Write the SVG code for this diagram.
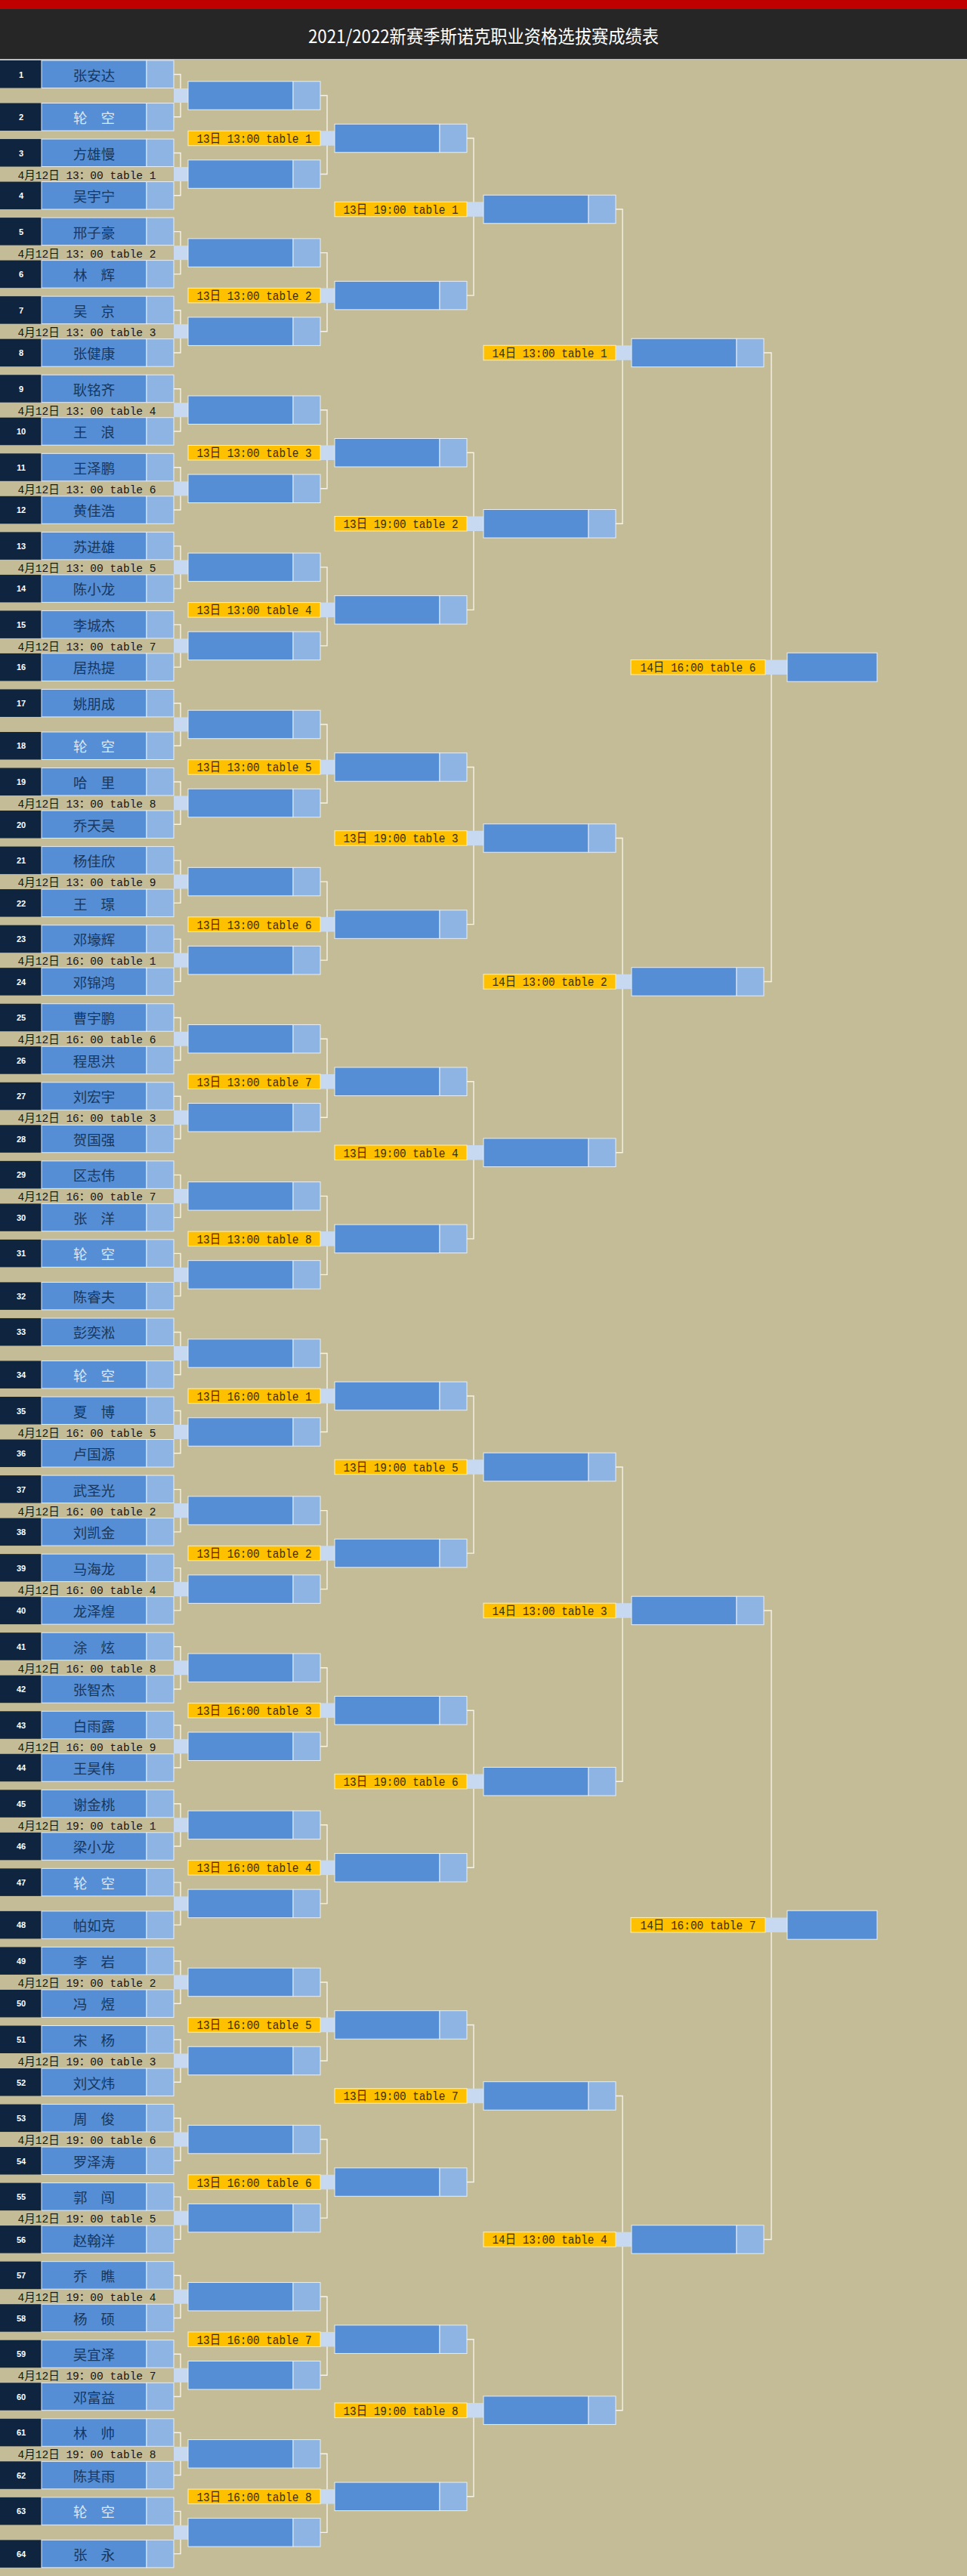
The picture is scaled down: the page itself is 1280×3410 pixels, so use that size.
<svg xmlns="http://www.w3.org/2000/svg" xmlns:xlink="http://www.w3.org/1999/xlink" width="1280" height="3410" viewBox="0 0 1280 3410">
<style>
.sd{fill:#0f243e}
.nm{fill:#558ed5;stroke:#e6edf6;stroke-width:1}
.sc{fill:#8db4e2;stroke:#e6edf6;stroke-width:1}
.lc{fill:#c6d9f1}
.br{fill:none;stroke:#f6f3e8;stroke-width:1.4}
.lb{fill:#ffc000;stroke:#fff0b0;stroke-width:1}
.num{font-family:"Liberation Sans",Arial,sans-serif;font-weight:bold;font-size:11px;fill:#ffffff;text-anchor:middle}
.pn{font-family:"Noto Sans CJK SC",sans-serif;font-size:18.5px;fill:#17375e;text-anchor:middle}
.bye{fill:#dbe7f5}
.dt{font-family:"Liberation Mono","Noto Sans CJK SC",monospace;font-size:15px;fill:#151515;text-anchor:middle}
.mt{font-family:"Liberation Mono","Noto Sans CJK SC",monospace;font-size:17px;fill:#3a2e00;text-anchor:middle}
.ttl{font-family:"Noto Sans CJK SC",sans-serif;font-size:24px;fill:#ffffff;text-anchor:middle}
</style>
<defs>
<g id="slot"><rect class="sd" width="55" height="36.5"/><rect class="nm" x="55" width="139" height="36.5"/><rect class="sc" x="194" width="36" height="36.5"/></g>
<g id="box"><rect class="nm" width="139" height="37.5"/><rect class="sc" x="139" width="36" height="37.5"/></g>
<path id="b1" class="br" d="M230,18.5H239V74.75H230"/>
<path id="b2" class="br" d="M424,0H433V104.06H424"/>
<path id="b3" class="br" d="M618,0H627V208.12H618"/>
<path id="b4" class="br" d="M814,0H824V416.24H814"/>
<path id="b5" class="br" d="M1011,0H1021V832.48H1011"/>
<rect id="l1" class="lc" x="230" y="37" width="19" height="19"/>
<rect id="l2" class="lc" x="424" y="-9.75" width="19" height="19.5"/>
<rect id="l3" class="lc" x="618" y="-9.75" width="22" height="19.5"/>
<rect id="l4" class="lc" x="814" y="-9.75" width="22" height="19.5"/>
<rect id="l5" class="lc" x="1013" y="-9.75" width="29" height="19.5"/>
</defs>
<rect width="1280" height="3410" fill="#c4bc96"/>
<rect width="1280" height="12" fill="#c00000"/>
<rect y="12" width="1280" height="66" fill="#262626"/>
<rect y="78" width="1280" height="1.5" fill="#bdbdbd"/>
<text class="ttl" x="640" y="57" textLength="464" lengthAdjust="spacingAndGlyphs">2021/2022新赛季斯诺克职业资格选拔赛成绩表</text>

<g id="connectors">
<use href="#b1" y="80"/><use href="#b1" y="184.06"/><use href="#b1" y="288.12"/><use href="#b1" y="392.18"/><use href="#b1" y="496.24"/><use href="#b1" y="600.3"/><use href="#b1" y="704.36"/><use href="#b1" y="808.42"/>
<use href="#b1" y="912.48"/><use href="#b1" y="1016.54"/><use href="#b1" y="1120.6"/><use href="#b1" y="1224.66"/><use href="#b1" y="1328.72"/><use href="#b1" y="1432.78"/><use href="#b1" y="1536.84"/><use href="#b1" y="1640.9"/>
<use href="#b1" y="1744.96"/><use href="#b1" y="1849.02"/><use href="#b1" y="1953.08"/><use href="#b1" y="2057.14"/><use href="#b1" y="2161.2"/><use href="#b1" y="2265.26"/><use href="#b1" y="2369.32"/><use href="#b1" y="2473.38"/>
<use href="#b1" y="2577.44"/><use href="#b1" y="2681.5"/><use href="#b1" y="2785.56"/><use href="#b1" y="2889.62"/><use href="#b1" y="2993.68"/><use href="#b1" y="3097.74"/><use href="#b1" y="3201.8"/><use href="#b1" y="3305.86"/>
<use href="#b2" y="126.5"/><use href="#b2" y="334.62"/><use href="#b2" y="542.74"/><use href="#b2" y="750.86"/><use href="#b2" y="958.98"/><use href="#b2" y="1167.1"/><use href="#b2" y="1375.22"/><use href="#b2" y="1583.34"/>
<use href="#b2" y="1791.46"/><use href="#b2" y="1999.58"/><use href="#b2" y="2207.7"/><use href="#b2" y="2415.82"/><use href="#b2" y="2623.94"/><use href="#b2" y="2832.06"/><use href="#b2" y="3040.18"/><use href="#b2" y="3248.3"/>
<use href="#b3" y="183"/><use href="#b3" y="599.24"/><use href="#b3" y="1015.48"/><use href="#b3" y="1431.72"/><use href="#b3" y="1847.96"/><use href="#b3" y="2264.2"/><use href="#b3" y="2680.44"/><use href="#b3" y="3096.68"/>
<use href="#b4" y="277"/><use href="#b4" y="1109.48"/><use href="#b4" y="1941.96"/><use href="#b4" y="2774.44"/>
<use href="#b5" y="467"/><use href="#b5" y="2131.96"/>
<use href="#l1" y="80"/><use href="#l1" y="184.06"/><use href="#l1" y="288.12"/><use href="#l1" y="392.18"/><use href="#l1" y="496.24"/><use href="#l1" y="600.3"/><use href="#l1" y="704.36"/><use href="#l1" y="808.42"/>
<use href="#l1" y="912.48"/><use href="#l1" y="1016.54"/><use href="#l1" y="1120.6"/><use href="#l1" y="1224.66"/><use href="#l1" y="1328.72"/><use href="#l1" y="1432.78"/><use href="#l1" y="1536.84"/><use href="#l1" y="1640.9"/>
<use href="#l1" y="1744.96"/><use href="#l1" y="1849.02"/><use href="#l1" y="1953.08"/><use href="#l1" y="2057.14"/><use href="#l1" y="2161.2"/><use href="#l1" y="2265.26"/><use href="#l1" y="2369.32"/><use href="#l1" y="2473.38"/>
<use href="#l1" y="2577.44"/><use href="#l1" y="2681.5"/><use href="#l1" y="2785.56"/><use href="#l1" y="2889.62"/><use href="#l1" y="2993.68"/><use href="#l1" y="3097.74"/><use href="#l1" y="3201.8"/><use href="#l1" y="3305.86"/>
<use href="#l2" y="183"/><use href="#l2" y="391.12"/><use href="#l2" y="599.24"/><use href="#l2" y="807.36"/><use href="#l2" y="1015.48"/><use href="#l2" y="1223.6"/><use href="#l2" y="1431.72"/><use href="#l2" y="1639.84"/>
<use href="#l2" y="1847.96"/><use href="#l2" y="2056.08"/><use href="#l2" y="2264.2"/><use href="#l2" y="2472.32"/><use href="#l2" y="2680.44"/><use href="#l2" y="2888.56"/><use href="#l2" y="3096.68"/><use href="#l2" y="3304.8"/>
<use href="#l3" y="277"/><use href="#l3" y="693.24"/><use href="#l3" y="1109.48"/><use href="#l3" y="1525.72"/><use href="#l3" y="1941.96"/><use href="#l3" y="2358.2"/><use href="#l3" y="2774.44"/><use href="#l3" y="3190.68"/>
<use href="#l4" y="467"/><use href="#l4" y="1299.48"/><use href="#l4" y="2131.96"/><use href="#l4" y="2964.44"/>
<use href="#l5" y="883.24"/><use href="#l5" y="2548.2"/>
</g>

<g id="round64">
<g transform="translate(0,80)"><g id="p1"><use href="#slot"/><text class="num" x="28" y="22.5">1</text><text class="pn" x="124.5" y="26.5">张安达</text></g><g id="p2" transform="translate(0,56.5)"><use href="#slot"/><text class="num" x="28" y="22.5">2</text><text class="pn bye" x="124.5" y="26.5" textLength="55">轮 空</text></g><g id="w1"><use href="#box" x="249" y="27.75"/></g></g>
<g transform="translate(0,184.06)"><g id="p3"><use href="#slot"/><text class="num" x="28" y="22.5">3</text><text class="pn" x="124.5" y="26.5">方雄慢</text></g><g id="p4" transform="translate(0,56.5)"><use href="#slot"/><text class="num" x="28" y="22.5">4</text><text class="pn" x="124.5" y="26.5">吴宇宁</text></g><g id="w2"><text class="dt" x="115" y="52.5" textLength="183" lengthAdjust="spacingAndGlyphs">4月12日 13：00 table 1</text><use href="#box" x="249" y="27.75"/></g></g>
<g transform="translate(0,288.12)"><g id="p5"><use href="#slot"/><text class="num" x="28" y="22.5">5</text><text class="pn" x="124.5" y="26.5">邢子豪</text></g><g id="p6" transform="translate(0,56.5)"><use href="#slot"/><text class="num" x="28" y="22.5">6</text><text class="pn" x="124.5" y="26.5" textLength="55">林 辉</text></g><g id="w3"><text class="dt" x="115" y="52.5" textLength="183" lengthAdjust="spacingAndGlyphs">4月12日 13：00 table 2</text><use href="#box" x="249" y="27.75"/></g></g>
<g transform="translate(0,392.18)"><g id="p7"><use href="#slot"/><text class="num" x="28" y="22.5">7</text><text class="pn" x="124.5" y="26.5" textLength="55">吴 京</text></g><g id="p8" transform="translate(0,56.5)"><use href="#slot"/><text class="num" x="28" y="22.5">8</text><text class="pn" x="124.5" y="26.5">张健康</text></g><g id="w4"><text class="dt" x="115" y="52.5" textLength="183" lengthAdjust="spacingAndGlyphs">4月12日 13：00 table 3</text><use href="#box" x="249" y="27.75"/></g></g>
<g transform="translate(0,496.24)"><g id="p9"><use href="#slot"/><text class="num" x="28" y="22.5">9</text><text class="pn" x="124.5" y="26.5">耿铭齐</text></g><g id="p10" transform="translate(0,56.5)"><use href="#slot"/><text class="num" x="28" y="22.5">10</text><text class="pn" x="124.5" y="26.5" textLength="55">王 浪</text></g><g id="w5"><text class="dt" x="115" y="52.5" textLength="183" lengthAdjust="spacingAndGlyphs">4月12日 13：00 table 4</text><use href="#box" x="249" y="27.75"/></g></g>
<g transform="translate(0,600.3)"><g id="p11"><use href="#slot"/><text class="num" x="28" y="22.5">11</text><text class="pn" x="124.5" y="26.5">王泽鹏</text></g><g id="p12" transform="translate(0,56.5)"><use href="#slot"/><text class="num" x="28" y="22.5">12</text><text class="pn" x="124.5" y="26.5">黄佳浩</text></g><g id="w6"><text class="dt" x="115" y="52.5" textLength="183" lengthAdjust="spacingAndGlyphs">4月12日 13：00 table 6</text><use href="#box" x="249" y="27.75"/></g></g>
<g transform="translate(0,704.36)"><g id="p13"><use href="#slot"/><text class="num" x="28" y="22.5">13</text><text class="pn" x="124.5" y="26.5">苏进雄</text></g><g id="p14" transform="translate(0,56.5)"><use href="#slot"/><text class="num" x="28" y="22.5">14</text><text class="pn" x="124.5" y="26.5">陈小龙</text></g><g id="w7"><text class="dt" x="115" y="52.5" textLength="183" lengthAdjust="spacingAndGlyphs">4月12日 13：00 table 5</text><use href="#box" x="249" y="27.75"/></g></g>
<g transform="translate(0,808.42)"><g id="p15"><use href="#slot"/><text class="num" x="28" y="22.5">15</text><text class="pn" x="124.5" y="26.5">李城杰</text></g><g id="p16" transform="translate(0,56.5)"><use href="#slot"/><text class="num" x="28" y="22.5">16</text><text class="pn" x="124.5" y="26.5">居热提</text></g><g id="w8"><text class="dt" x="115" y="52.5" textLength="183" lengthAdjust="spacingAndGlyphs">4月12日 13：00 table 7</text><use href="#box" x="249" y="27.75"/></g></g>
<g transform="translate(0,912.48)"><g id="p17"><use href="#slot"/><text class="num" x="28" y="22.5">17</text><text class="pn" x="124.5" y="26.5">姚朋成</text></g><g id="p18" transform="translate(0,56.5)"><use href="#slot"/><text class="num" x="28" y="22.5">18</text><text class="pn bye" x="124.5" y="26.5" textLength="55">轮 空</text></g><g id="w9"><use href="#box" x="249" y="27.75"/></g></g>
<g transform="translate(0,1016.54)"><g id="p19"><use href="#slot"/><text class="num" x="28" y="22.5">19</text><text class="pn" x="124.5" y="26.5" textLength="55">哈 里</text></g><g id="p20" transform="translate(0,56.5)"><use href="#slot"/><text class="num" x="28" y="22.5">20</text><text class="pn" x="124.5" y="26.5">乔天昊</text></g><g id="w10"><text class="dt" x="115" y="52.5" textLength="183" lengthAdjust="spacingAndGlyphs">4月12日 13：00 table 8</text><use href="#box" x="249" y="27.75"/></g></g>
<g transform="translate(0,1120.6)"><g id="p21"><use href="#slot"/><text class="num" x="28" y="22.5">21</text><text class="pn" x="124.5" y="26.5">杨佳欣</text></g><g id="p22" transform="translate(0,56.5)"><use href="#slot"/><text class="num" x="28" y="22.5">22</text><text class="pn" x="124.5" y="26.5" textLength="55">王 璟</text></g><g id="w11"><text class="dt" x="115" y="52.5" textLength="183" lengthAdjust="spacingAndGlyphs">4月12日 13：00 table 9</text><use href="#box" x="249" y="27.75"/></g></g>
<g transform="translate(0,1224.66)"><g id="p23"><use href="#slot"/><text class="num" x="28" y="22.5">23</text><text class="pn" x="124.5" y="26.5">邓壕辉</text></g><g id="p24" transform="translate(0,56.5)"><use href="#slot"/><text class="num" x="28" y="22.5">24</text><text class="pn" x="124.5" y="26.5">邓锦鸿</text></g><g id="w12"><text class="dt" x="115" y="52.5" textLength="183" lengthAdjust="spacingAndGlyphs">4月12日 16：00 table 1</text><use href="#box" x="249" y="27.75"/></g></g>
<g transform="translate(0,1328.72)"><g id="p25"><use href="#slot"/><text class="num" x="28" y="22.5">25</text><text class="pn" x="124.5" y="26.5">曹宇鹏</text></g><g id="p26" transform="translate(0,56.5)"><use href="#slot"/><text class="num" x="28" y="22.5">26</text><text class="pn" x="124.5" y="26.5">程思洪</text></g><g id="w13"><text class="dt" x="115" y="52.5" textLength="183" lengthAdjust="spacingAndGlyphs">4月12日 16：00 table 6</text><use href="#box" x="249" y="27.75"/></g></g>
<g transform="translate(0,1432.78)"><g id="p27"><use href="#slot"/><text class="num" x="28" y="22.5">27</text><text class="pn" x="124.5" y="26.5">刘宏宇</text></g><g id="p28" transform="translate(0,56.5)"><use href="#slot"/><text class="num" x="28" y="22.5">28</text><text class="pn" x="124.5" y="26.5">贺国强</text></g><g id="w14"><text class="dt" x="115" y="52.5" textLength="183" lengthAdjust="spacingAndGlyphs">4月12日 16：00 table 3</text><use href="#box" x="249" y="27.75"/></g></g>
<g transform="translate(0,1536.84)"><g id="p29"><use href="#slot"/><text class="num" x="28" y="22.5">29</text><text class="pn" x="124.5" y="26.5">区志伟</text></g><g id="p30" transform="translate(0,56.5)"><use href="#slot"/><text class="num" x="28" y="22.5">30</text><text class="pn" x="124.5" y="26.5" textLength="55">张 洋</text></g><g id="w15"><text class="dt" x="115" y="52.5" textLength="183" lengthAdjust="spacingAndGlyphs">4月12日 16：00 table 7</text><use href="#box" x="249" y="27.75"/></g></g>
<g transform="translate(0,1640.9)"><g id="p31"><use href="#slot"/><text class="num" x="28" y="22.5">31</text><text class="pn bye" x="124.5" y="26.5" textLength="55">轮 空</text></g><g id="p32" transform="translate(0,56.5)"><use href="#slot"/><text class="num" x="28" y="22.5">32</text><text class="pn" x="124.5" y="26.5">陈睿夫</text></g><g id="w16"><use href="#box" x="249" y="27.75"/></g></g>
<g transform="translate(0,1744.96)"><g id="p33"><use href="#slot"/><text class="num" x="28" y="22.5">33</text><text class="pn" x="124.5" y="26.5">彭奕淞</text></g><g id="p34" transform="translate(0,56.5)"><use href="#slot"/><text class="num" x="28" y="22.5">34</text><text class="pn bye" x="124.5" y="26.5" textLength="55">轮 空</text></g><g id="w17"><use href="#box" x="249" y="27.75"/></g></g>
<g transform="translate(0,1849.02)"><g id="p35"><use href="#slot"/><text class="num" x="28" y="22.5">35</text><text class="pn" x="124.5" y="26.5" textLength="55">夏 博</text></g><g id="p36" transform="translate(0,56.5)"><use href="#slot"/><text class="num" x="28" y="22.5">36</text><text class="pn" x="124.5" y="26.5">卢国源</text></g><g id="w18"><text class="dt" x="115" y="52.5" textLength="183" lengthAdjust="spacingAndGlyphs">4月12日 16：00 table 5</text><use href="#box" x="249" y="27.75"/></g></g>
<g transform="translate(0,1953.08)"><g id="p37"><use href="#slot"/><text class="num" x="28" y="22.5">37</text><text class="pn" x="124.5" y="26.5">武圣光</text></g><g id="p38" transform="translate(0,56.5)"><use href="#slot"/><text class="num" x="28" y="22.5">38</text><text class="pn" x="124.5" y="26.5">刘凯金</text></g><g id="w19"><text class="dt" x="115" y="52.5" textLength="183" lengthAdjust="spacingAndGlyphs">4月12日 16：00 table 2</text><use href="#box" x="249" y="27.75"/></g></g>
<g transform="translate(0,2057.14)"><g id="p39"><use href="#slot"/><text class="num" x="28" y="22.5">39</text><text class="pn" x="124.5" y="26.5">马海龙</text></g><g id="p40" transform="translate(0,56.5)"><use href="#slot"/><text class="num" x="28" y="22.5">40</text><text class="pn" x="124.5" y="26.5">龙泽煌</text></g><g id="w20"><text class="dt" x="115" y="52.5" textLength="183" lengthAdjust="spacingAndGlyphs">4月12日 16：00 table 4</text><use href="#box" x="249" y="27.75"/></g></g>
<g transform="translate(0,2161.2)"><g id="p41"><use href="#slot"/><text class="num" x="28" y="22.5">41</text><text class="pn" x="124.5" y="26.5" textLength="55">涂 炫</text></g><g id="p42" transform="translate(0,56.5)"><use href="#slot"/><text class="num" x="28" y="22.5">42</text><text class="pn" x="124.5" y="26.5">张智杰</text></g><g id="w21"><text class="dt" x="115" y="52.5" textLength="183" lengthAdjust="spacingAndGlyphs">4月12日 16：00 table 8</text><use href="#box" x="249" y="27.75"/></g></g>
<g transform="translate(0,2265.26)"><g id="p43"><use href="#slot"/><text class="num" x="28" y="22.5">43</text><text class="pn" x="124.5" y="26.5">白雨露</text></g><g id="p44" transform="translate(0,56.5)"><use href="#slot"/><text class="num" x="28" y="22.5">44</text><text class="pn" x="124.5" y="26.5">王昊伟</text></g><g id="w22"><text class="dt" x="115" y="52.5" textLength="183" lengthAdjust="spacingAndGlyphs">4月12日 16：00 table 9</text><use href="#box" x="249" y="27.75"/></g></g>
<g transform="translate(0,2369.32)"><g id="p45"><use href="#slot"/><text class="num" x="28" y="22.5">45</text><text class="pn" x="124.5" y="26.5">谢金桃</text></g><g id="p46" transform="translate(0,56.5)"><use href="#slot"/><text class="num" x="28" y="22.5">46</text><text class="pn" x="124.5" y="26.5">梁小龙</text></g><g id="w23"><text class="dt" x="115" y="52.5" textLength="183" lengthAdjust="spacingAndGlyphs">4月12日 19：00 table 1</text><use href="#box" x="249" y="27.75"/></g></g>
<g transform="translate(0,2473.38)"><g id="p47"><use href="#slot"/><text class="num" x="28" y="22.5">47</text><text class="pn bye" x="124.5" y="26.5" textLength="55">轮 空</text></g><g id="p48" transform="translate(0,56.5)"><use href="#slot"/><text class="num" x="28" y="22.5">48</text><text class="pn" x="124.5" y="26.5">帕如克</text></g><g id="w24"><use href="#box" x="249" y="27.75"/></g></g>
<g transform="translate(0,2577.44)"><g id="p49"><use href="#slot"/><text class="num" x="28" y="22.5">49</text><text class="pn" x="124.5" y="26.5" textLength="55">李 岩</text></g><g id="p50" transform="translate(0,56.5)"><use href="#slot"/><text class="num" x="28" y="22.5">50</text><text class="pn" x="124.5" y="26.5" textLength="55">冯 煜</text></g><g id="w25"><text class="dt" x="115" y="52.5" textLength="183" lengthAdjust="spacingAndGlyphs">4月12日 19：00 table 2</text><use href="#box" x="249" y="27.75"/></g></g>
<g transform="translate(0,2681.5)"><g id="p51"><use href="#slot"/><text class="num" x="28" y="22.5">51</text><text class="pn" x="124.5" y="26.5" textLength="55">宋 杨</text></g><g id="p52" transform="translate(0,56.5)"><use href="#slot"/><text class="num" x="28" y="22.5">52</text><text class="pn" x="124.5" y="26.5">刘文炜</text></g><g id="w26"><text class="dt" x="115" y="52.5" textLength="183" lengthAdjust="spacingAndGlyphs">4月12日 19：00 table 3</text><use href="#box" x="249" y="27.75"/></g></g>
<g transform="translate(0,2785.56)"><g id="p53"><use href="#slot"/><text class="num" x="28" y="22.5">53</text><text class="pn" x="124.5" y="26.5" textLength="55">周 俊</text></g><g id="p54" transform="translate(0,56.5)"><use href="#slot"/><text class="num" x="28" y="22.5">54</text><text class="pn" x="124.5" y="26.5">罗泽涛</text></g><g id="w27"><text class="dt" x="115" y="52.5" textLength="183" lengthAdjust="spacingAndGlyphs">4月12日 19：00 table 6</text><use href="#box" x="249" y="27.75"/></g></g>
<g transform="translate(0,2889.62)"><g id="p55"><use href="#slot"/><text class="num" x="28" y="22.5">55</text><text class="pn" x="124.5" y="26.5" textLength="55">郭 闯</text></g><g id="p56" transform="translate(0,56.5)"><use href="#slot"/><text class="num" x="28" y="22.5">56</text><text class="pn" x="124.5" y="26.5">赵翰洋</text></g><g id="w28"><text class="dt" x="115" y="52.5" textLength="183" lengthAdjust="spacingAndGlyphs">4月12日 19：00 table 5</text><use href="#box" x="249" y="27.75"/></g></g>
<g transform="translate(0,2993.68)"><g id="p57"><use href="#slot"/><text class="num" x="28" y="22.5">57</text><text class="pn" x="124.5" y="26.5" textLength="55">乔 瞧</text></g><g id="p58" transform="translate(0,56.5)"><use href="#slot"/><text class="num" x="28" y="22.5">58</text><text class="pn" x="124.5" y="26.5" textLength="55">杨 硕</text></g><g id="w29"><text class="dt" x="115" y="52.5" textLength="183" lengthAdjust="spacingAndGlyphs">4月12日 19：00 table 4</text><use href="#box" x="249" y="27.75"/></g></g>
<g transform="translate(0,3097.74)"><g id="p59"><use href="#slot"/><text class="num" x="28" y="22.5">59</text><text class="pn" x="124.5" y="26.5">吴宜泽</text></g><g id="p60" transform="translate(0,56.5)"><use href="#slot"/><text class="num" x="28" y="22.5">60</text><text class="pn" x="124.5" y="26.5">邓富益</text></g><g id="w30"><text class="dt" x="115" y="52.5" textLength="183" lengthAdjust="spacingAndGlyphs">4月12日 19：00 table 7</text><use href="#box" x="249" y="27.75"/></g></g>
<g transform="translate(0,3201.8)"><g id="p61"><use href="#slot"/><text class="num" x="28" y="22.5">61</text><text class="pn" x="124.5" y="26.5" textLength="55">林 帅</text></g><g id="p62" transform="translate(0,56.5)"><use href="#slot"/><text class="num" x="28" y="22.5">62</text><text class="pn" x="124.5" y="26.5">陈其雨</text></g><g id="w31"><text class="dt" x="115" y="52.5" textLength="183" lengthAdjust="spacingAndGlyphs">4月12日 19：00 table 8</text><use href="#box" x="249" y="27.75"/></g></g>
<g transform="translate(0,3305.86)"><g id="p63"><use href="#slot"/><text class="num" x="28" y="22.5">63</text><text class="pn bye" x="124.5" y="26.5" textLength="55">轮 空</text></g><g id="p64" transform="translate(0,56.5)"><use href="#slot"/><text class="num" x="28" y="22.5">64</text><text class="pn" x="124.5" y="26.5" textLength="55">张 永</text></g><g id="w32"><use href="#box" x="249" y="27.75"/></g></g>
</g>

<g id="round32">
<g id="r2m1" transform="translate(0,183)"><rect class="lb" x="249" y="-9.75" width="175" height="19.5"/><text class="mt" x="336.5" y="6" textLength="152" lengthAdjust="spacingAndGlyphs">13日 13:00 table 1</text><use href="#box" x="443" y="-18.75"/></g>
<g id="r2m2" transform="translate(0,391.12)"><rect class="lb" x="249" y="-9.75" width="175" height="19.5"/><text class="mt" x="336.5" y="6" textLength="152" lengthAdjust="spacingAndGlyphs">13日 13:00 table 2</text><use href="#box" x="443" y="-18.75"/></g>
<g id="r2m3" transform="translate(0,599.24)"><rect class="lb" x="249" y="-9.75" width="175" height="19.5"/><text class="mt" x="336.5" y="6" textLength="152" lengthAdjust="spacingAndGlyphs">13日 13:00 table 3</text><use href="#box" x="443" y="-18.75"/></g>
<g id="r2m4" transform="translate(0,807.36)"><rect class="lb" x="249" y="-9.75" width="175" height="19.5"/><text class="mt" x="336.5" y="6" textLength="152" lengthAdjust="spacingAndGlyphs">13日 13:00 table 4</text><use href="#box" x="443" y="-18.75"/></g>
<g id="r2m5" transform="translate(0,1015.48)"><rect class="lb" x="249" y="-9.75" width="175" height="19.5"/><text class="mt" x="336.5" y="6" textLength="152" lengthAdjust="spacingAndGlyphs">13日 13:00 table 5</text><use href="#box" x="443" y="-18.75"/></g>
<g id="r2m6" transform="translate(0,1223.6)"><rect class="lb" x="249" y="-9.75" width="175" height="19.5"/><text class="mt" x="336.5" y="6" textLength="152" lengthAdjust="spacingAndGlyphs">13日 13:00 table 6</text><use href="#box" x="443" y="-18.75"/></g>
<g id="r2m7" transform="translate(0,1431.72)"><rect class="lb" x="249" y="-9.75" width="175" height="19.5"/><text class="mt" x="336.5" y="6" textLength="152" lengthAdjust="spacingAndGlyphs">13日 13:00 table 7</text><use href="#box" x="443" y="-18.75"/></g>
<g id="r2m8" transform="translate(0,1639.84)"><rect class="lb" x="249" y="-9.75" width="175" height="19.5"/><text class="mt" x="336.5" y="6" textLength="152" lengthAdjust="spacingAndGlyphs">13日 13:00 table 8</text><use href="#box" x="443" y="-18.75"/></g>
<g id="r2m9" transform="translate(0,1847.96)"><rect class="lb" x="249" y="-9.75" width="175" height="19.5"/><text class="mt" x="336.5" y="6" textLength="152" lengthAdjust="spacingAndGlyphs">13日 16:00 table 1</text><use href="#box" x="443" y="-18.75"/></g>
<g id="r2m10" transform="translate(0,2056.08)"><rect class="lb" x="249" y="-9.75" width="175" height="19.5"/><text class="mt" x="336.5" y="6" textLength="152" lengthAdjust="spacingAndGlyphs">13日 16:00 table 2</text><use href="#box" x="443" y="-18.75"/></g>
<g id="r2m11" transform="translate(0,2264.2)"><rect class="lb" x="249" y="-9.75" width="175" height="19.5"/><text class="mt" x="336.5" y="6" textLength="152" lengthAdjust="spacingAndGlyphs">13日 16:00 table 3</text><use href="#box" x="443" y="-18.75"/></g>
<g id="r2m12" transform="translate(0,2472.32)"><rect class="lb" x="249" y="-9.75" width="175" height="19.5"/><text class="mt" x="336.5" y="6" textLength="152" lengthAdjust="spacingAndGlyphs">13日 16:00 table 4</text><use href="#box" x="443" y="-18.75"/></g>
<g id="r2m13" transform="translate(0,2680.44)"><rect class="lb" x="249" y="-9.75" width="175" height="19.5"/><text class="mt" x="336.5" y="6" textLength="152" lengthAdjust="spacingAndGlyphs">13日 16:00 table 5</text><use href="#box" x="443" y="-18.75"/></g>
<g id="r2m14" transform="translate(0,2888.56)"><rect class="lb" x="249" y="-9.75" width="175" height="19.5"/><text class="mt" x="336.5" y="6" textLength="152" lengthAdjust="spacingAndGlyphs">13日 16:00 table 6</text><use href="#box" x="443" y="-18.75"/></g>
<g id="r2m15" transform="translate(0,3096.68)"><rect class="lb" x="249" y="-9.75" width="175" height="19.5"/><text class="mt" x="336.5" y="6" textLength="152" lengthAdjust="spacingAndGlyphs">13日 16:00 table 7</text><use href="#box" x="443" y="-18.75"/></g>
<g id="r2m16" transform="translate(0,3304.8)"><rect class="lb" x="249" y="-9.75" width="175" height="19.5"/><text class="mt" x="336.5" y="6" textLength="152" lengthAdjust="spacingAndGlyphs">13日 16:00 table 8</text><use href="#box" x="443" y="-18.75"/></g>
</g>

<g id="round16">
<g id="r3m1" transform="translate(0,277)"><rect class="lb" x="443" y="-9.75" width="175" height="19.5"/><text class="mt" x="530.5" y="6" textLength="152" lengthAdjust="spacingAndGlyphs">13日 19:00 table 1</text><use href="#box" x="640" y="-18.75"/></g>
<g id="r3m2" transform="translate(0,693.24)"><rect class="lb" x="443" y="-9.75" width="175" height="19.5"/><text class="mt" x="530.5" y="6" textLength="152" lengthAdjust="spacingAndGlyphs">13日 19:00 table 2</text><use href="#box" x="640" y="-18.75"/></g>
<g id="r3m3" transform="translate(0,1109.48)"><rect class="lb" x="443" y="-9.75" width="175" height="19.5"/><text class="mt" x="530.5" y="6" textLength="152" lengthAdjust="spacingAndGlyphs">13日 19:00 table 3</text><use href="#box" x="640" y="-18.75"/></g>
<g id="r3m4" transform="translate(0,1525.72)"><rect class="lb" x="443" y="-9.75" width="175" height="19.5"/><text class="mt" x="530.5" y="6" textLength="152" lengthAdjust="spacingAndGlyphs">13日 19:00 table 4</text><use href="#box" x="640" y="-18.75"/></g>
<g id="r3m5" transform="translate(0,1941.96)"><rect class="lb" x="443" y="-9.75" width="175" height="19.5"/><text class="mt" x="530.5" y="6" textLength="152" lengthAdjust="spacingAndGlyphs">13日 19:00 table 5</text><use href="#box" x="640" y="-18.75"/></g>
<g id="r3m6" transform="translate(0,2358.2)"><rect class="lb" x="443" y="-9.75" width="175" height="19.5"/><text class="mt" x="530.5" y="6" textLength="152" lengthAdjust="spacingAndGlyphs">13日 19:00 table 6</text><use href="#box" x="640" y="-18.75"/></g>
<g id="r3m7" transform="translate(0,2774.44)"><rect class="lb" x="443" y="-9.75" width="175" height="19.5"/><text class="mt" x="530.5" y="6" textLength="152" lengthAdjust="spacingAndGlyphs">13日 19:00 table 7</text><use href="#box" x="640" y="-18.75"/></g>
<g id="r3m8" transform="translate(0,3190.68)"><rect class="lb" x="443" y="-9.75" width="175" height="19.5"/><text class="mt" x="530.5" y="6" textLength="152" lengthAdjust="spacingAndGlyphs">13日 19:00 table 8</text><use href="#box" x="640" y="-18.75"/></g>
</g>

<g id="round8">
<g id="r4m1" transform="translate(0,467)"><rect class="lb" x="640" y="-9.75" width="175" height="19.5"/><text class="mt" x="727.5" y="6" textLength="152" lengthAdjust="spacingAndGlyphs">14日 13:00 table 1</text><use href="#box" x="836" y="-18.75"/></g>
<g id="r4m2" transform="translate(0,1299.48)"><rect class="lb" x="640" y="-9.75" width="175" height="19.5"/><text class="mt" x="727.5" y="6" textLength="152" lengthAdjust="spacingAndGlyphs">14日 13:00 table 2</text><use href="#box" x="836" y="-18.75"/></g>
<g id="r4m3" transform="translate(0,2131.96)"><rect class="lb" x="640" y="-9.75" width="175" height="19.5"/><text class="mt" x="727.5" y="6" textLength="152" lengthAdjust="spacingAndGlyphs">14日 13:00 table 3</text><use href="#box" x="836" y="-18.75"/></g>
<g id="r4m4" transform="translate(0,2964.44)"><rect class="lb" x="640" y="-9.75" width="175" height="19.5"/><text class="mt" x="727.5" y="6" textLength="152" lengthAdjust="spacingAndGlyphs">14日 13:00 table 4</text><use href="#box" x="836" y="-18.75"/></g>
</g>

<g id="qualifiers">
<g id="q1" transform="translate(0,883.24)"><rect class="lb" x="835" y="-9.75" width="178" height="19.5"/><text class="mt" x="924" y="6" textLength="153" lengthAdjust="spacingAndGlyphs">14日 16:00 table 6</text><rect class="nm" x="1042" y="-19" width="119" height="38"/></g>
<g id="q2" transform="translate(0,2548.2)"><rect class="lb" x="835" y="-9.75" width="178" height="19.5"/><text class="mt" x="924" y="6" textLength="153" lengthAdjust="spacingAndGlyphs">14日 16:00 table 7</text><rect class="nm" x="1042" y="-19" width="119" height="38"/></g>
</g>
</svg>
